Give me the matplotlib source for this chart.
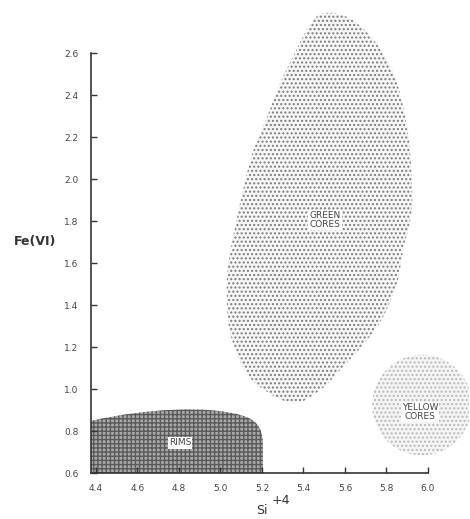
import numpy as np
import matplotlib
matplotlib.use("Agg")
import matplotlib.pyplot as plt
from matplotlib.path import Path
from matplotlib.patches import PathPatch, Ellipse

# axis ticks
x_ticks = [4.4, 4.6, 4.8, 5.0, 5.2, 5.4, 5.6, 5.8, 6.0]
y_ticks = [0.6, 0.8, 1.0, 1.2, 1.4, 1.6, 1.8, 2.0, 2.2, 2.4, 2.6]

# green cores field outline (Si, Fe)
green_si = [5.48, 5.59, 5.690, 5.783, 5.851, 5.890, 5.913, 5.923, 5.880, 5.851, 5.783,
            5.706, 5.590, 5.480, 5.349, 5.190, 5.108, 5.046, 5.031, 5.036, 5.080,
            5.150, 5.224, 5.287, 5.349, 5.410]
green_fe = [2.785, 2.780, 2.715, 2.600, 2.457, 2.295, 2.138, 1.867, 1.662, 1.505, 1.343,
            1.233, 1.105, 0.995, 0.933, 1.010, 1.105, 1.267, 1.424, 1.581, 1.819,
            2.110, 2.295, 2.457, 2.581, 2.700]

# rims field: top edge from the Fe axis to Si = 5.2
rims_left = 4.376
rims_right = 5.205
rims_top = [0.848, 0.91, 0.92, 0.875]   # bezier heights
rims_top_si = [4.376, 4.65, 4.95, 5.10]

# yellow cores field (center, radius)
yellow_center = (5.971, 0.924)
yellow_radius = 0.24

labels = {"GREEN\nCORES": (5.504, 1.805),
          "RIMS": (4.805, 0.743),
          "YELLOW\nCORES": (5.961, 0.890)}

plt.rcParams["hatch.linewidth"] = 1.0


def smooth_closed(xs, ys):
    pts = np.column_stack([xs, ys])
    n = len(pts)
    verts = [pts[0]]
    codes = [Path.MOVETO]
    for i in range(n):
        p0, p1, p2, p3 = pts[i - 1], pts[i], pts[(i + 1) % n], pts[(i + 2) % n]
        verts += [p1 + (p2 - p0) / 6, p2 - (p3 - p1) / 6, p2]
        codes += [Path.CURVE4] * 3
    return Path(verts, codes)


fig = plt.figure(figsize=(4.7, 5.19), dpi=100)
ax = fig.add_axes([0.1936, 0.0886, 0.8053, 0.898])
ax.set_xlim(4.376, 6.2)
ax.set_ylim(0.6, 2.82)

# green cores
green = PathPatch(smooth_closed(green_si, green_fe), facecolor="#f6f6f6",
                  edgecolor="#7c7c7c", hatch="....", linewidth=0, zorder=1)
ax.add_patch(green)

# yellow cores
yellow = Ellipse(yellow_center, 2 * yellow_radius, 2 * yellow_radius,
                 facecolor="#f4f4f4", edgecolor="#b8b8b8", hatch="....",
                 linewidth=0, zorder=1)
ax.add_patch(yellow)

# rims
rv = [(rims_left, 0.6), (rims_left, rims_top[0]),
      (rims_top_si[1], rims_top[1]), (rims_top_si[2], rims_top[2]), (rims_top_si[3], rims_top[3]),
      (5.19, 0.85), (rims_right, 0.80), (rims_right, 0.72),
      (rims_right, 0.6), (rims_left, 0.6)]
rc = [Path.MOVETO, Path.LINETO,
      Path.CURVE4, Path.CURVE4, Path.CURVE4,
      Path.CURVE4, Path.CURVE4, Path.CURVE4,
      Path.LINETO, Path.CLOSEPOLY]
rims = PathPatch(Path(rv, rc), facecolor="#a9a9a9", edgecolor="#5a5a5a",
                 hatch="++++", linewidth=0, zorder=1)
ax.add_patch(rims)

for txt, (lx, ly) in labels.items():
    ax.text(lx, ly, txt, ha="center", va="center", fontsize=6.5, color="#444444",
            linespacing=1.0, zorder=3,
            bbox=dict(facecolor="white", edgecolor="none", pad=0.8))

# axes
for s in ["top", "right"]:
    ax.spines[s].set_visible(False)
ax.spines["left"].set_bounds(0.6, 2.6)
ax.spines["bottom"].set_bounds(4.376, 6.0)
for s in ["left", "bottom"]:
    ax.spines[s].set_linewidth(1.2)
    ax.spines[s].set_color("#333333")
    ax.spines[s].set_zorder(4)

ax.set_xticks(x_ticks)
ax.set_xticklabels([f"{v:.1f}" for v in x_ticks])
ax.set_yticks(y_ticks)
ax.set_yticklabels([f"{v:.1f}" for v in y_ticks])
ax.tick_params(direction="in", length=4, width=1, color="#333333",
               labelsize=6.5, labelcolor="#444444")
ax.tick_params(axis="x", pad=8)
ax.tick_params(axis="y", pad=9)

fig.text(0.0745, 0.534, "Fe(VI)", ha="center", va="center", fontsize=9,
         fontweight="bold", color="#333333")
fig.text(0.557, 0.016, "Si", ha="center", va="center", fontsize=9, color="#333333")
fig.text(0.598, 0.036, "+4", ha="center", va="center", fontsize=9, color="#333333")

fig.savefig("out.png", dpi=100)
